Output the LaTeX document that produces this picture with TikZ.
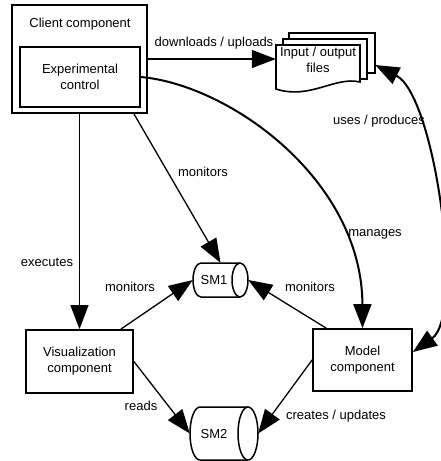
\documentclass[tikz,border=0pt]{standalone}
\usepackage{fontspec}
\setmainfont{Liberation Sans}
\usetikzlibrary{shapes.geometric,arrows.meta,positioning,calc}

\begin{document}
\begin{tikzpicture}[x=1pt,y=-1pt,font=\fontsize{13}{16}\selectfont,
	box/.style={draw, line width=1.8pt, fill=white, align=center, inner sep=0pt},
	store/.style={draw, line width=1.5pt, fill=white},
	page/.style={draw, line width=1.6pt, fill=white},
	link/.style={line width=1.3pt, -{Triangle[length=24pt,width=18pt]}},
	bent/.style={line width=2pt, -{Triangle[length=24pt,width=18pt]}},
	txt/.style={inner sep=0pt, align=center}]
	\useasboundingbox (0,0) rectangle (441,461);
	\node[box, line width=2pt, minimum width=135pt, minimum height=108pt] (client) at (79.5,59) {};
	\node[txt] (clienttitle) at (80,24) {Client component};
	\node[box, minimum width=120pt, minimum height=60pt] (ctl) at (80,77) {Experimental\\control};
	\draw[page] (289,33) rectangle (375,73);
	\draw[page] (283,39) rectangle (367,79);
	\draw[page] (276,45) -- (360,45) -- (360,82) .. controls (335,76) and (310,100) .. (276,89) -- cycle;
	\node[txt, minimum width=84pt] (files) at (318,60) {Input / output\\files};
	\node[box, minimum width=107pt, minimum height=63pt] (vis) at (79.5,361.5) {Visualization\\component};
	\node[box, minimum width=99pt, minimum height=62pt] (model) at (362.5,360) {Model\\component};
	\node[inner sep=0pt, minimum width=55pt, minimum height=34pt] (sm1) at (220.5,280) {};
	\draw[store] (240,263) -- (201,263) arc[start angle=90, end angle=270, x radius=8pt, y radius=17pt] -- (240,297);
	\draw[store] (240,280) ellipse[x radius=8pt, y radius=17pt];
	\node[txt] (sm1txt) at (214,280) {SM1};
	\node[inner sep=0pt, minimum width=68pt, minimum height=53pt] (sm2) at (224,433.5) {};
	\draw[store] (248,407) -- (200,407) arc[start angle=90, end angle=270, x radius=10pt, y radius=26.5pt] -- (248,460);
	\draw[store] (248,433.5) ellipse[x radius=10pt, y radius=26.5pt];
	\node[txt] (sm2txt) at (214,434) {SM2};
	\draw[link] (client.east) -- (client.east -| files.west);
	\draw[bent] (ctl.east) .. controls (230,85) and (362,180) .. (model.north);
	\draw[bent, {Triangle[length=24pt,width=18pt]}-{Triangle[length=24pt,width=18pt]}]
		([xshift=15pt,yshift=-5pt]files.east) .. controls (435,95) and (465,315) .. ([yshift=8pt]model.east);
	\draw[link] (client.south) -- (vis.north);
	\draw[link] ([xshift=-14pt]client.south east) -- (sm1.north);
	\draw[link] ([xshift=-13pt]vis.north east) -- (sm1.west);
	\draw[link] ([xshift=14pt]model.north west) -- (sm1.east);
	\draw[link] (vis.east) -- (sm2.west);
	\draw[link] (model.west) -- (sm2.east);
	\node[txt] (lbldl) at (214,43) {downloads / uploads};
	\node[txt] (lbluse) at (379,121) {uses / produces};
	\node[txt] (lblmon) at (203,172) {monitors};
	\node[txt] (lblman) at (375,234) {manages};
	\node[txt] (lblexe) at (47,262) {executes};
	\node[txt] (lblmonl) at (130,287) {monitors};
	\node[txt] (lblmonr) at (310,287) {monitors};
	\node[txt] (lblread) at (141,406) {reads};
	\node[txt] (lblcre) at (336,416) {creates / updates};
\end{tikzpicture}
\end{document}
